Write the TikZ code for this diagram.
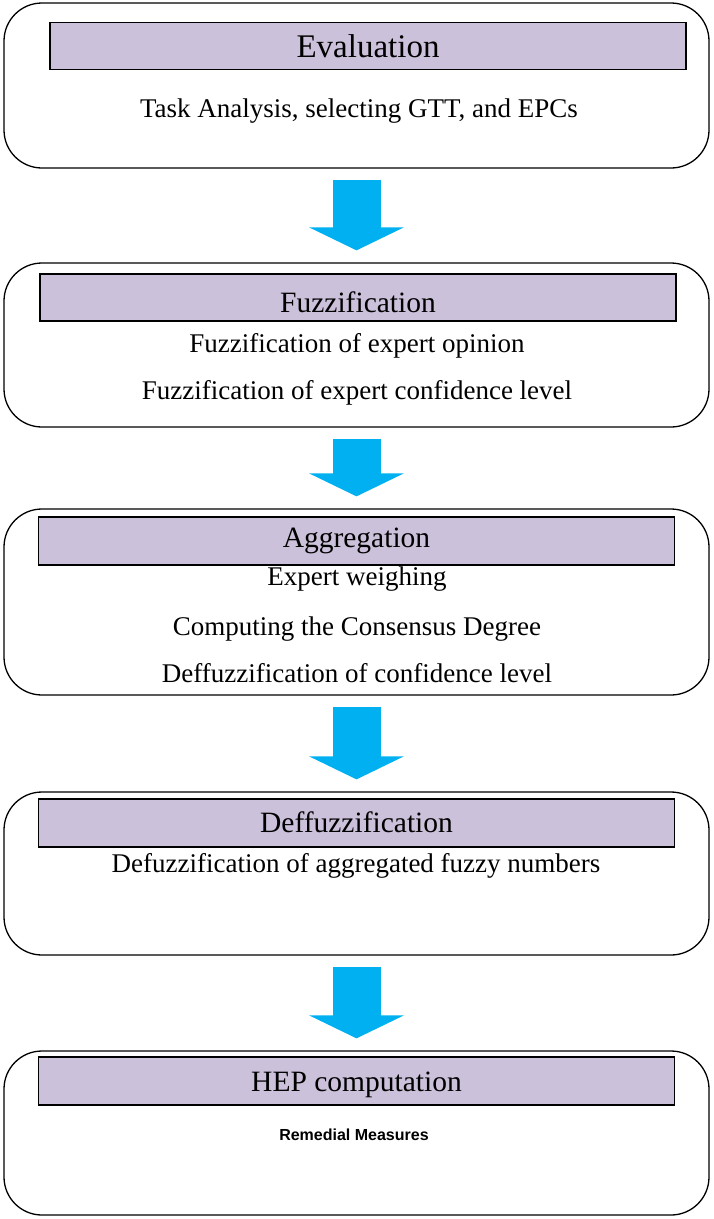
\documentclass[tikz,border=0pt]{standalone}
\usepackage{fontspec}
\setmainfont{Liberation Serif}
\setsansfont{Liberation Sans}
\usetikzlibrary{arrows.meta,positioning}
\definecolor{headfill}{HTML}{CCC1DA}
\definecolor{flowblue}{HTML}{00B0F0}

\begin{document}
\begin{tikzpicture}[x=1pt, y=-1pt,
    stagebox/.style={draw, line width=1.3pt, rounded corners=38pt, minimum width=705pt, inner sep=0pt},
    headbar/.style={draw, line width=1.2pt, fill=headfill, minimum width=636pt, minimum height=47pt, inner sep=0pt},
    headtext/.style={anchor=base, inner sep=0pt, font=\fontsize{29.5}{34}\selectfont},
    bodytext/.style={anchor=base, inner sep=0pt, font=\fontsize{27}{32}\selectfont},
    flowarrow/.style={draw=flowblue, line width=48pt, -{Triangle[length=23pt, width=94pt]}, shorten <=11pt, shorten >=12pt}]
    \useasboundingbox (0,0) rectangle (714,1219);

    % stage frames
    \node[stagebox, minimum height=165pt] (evalbox) at (356.5,85.5) {};
    \node[stagebox, minimum height=164pt] (fuzzbox) at (356.5,345) {};
    \node[stagebox, minimum height=186pt] (aggbox) at (356.5,602) {};
    \node[stagebox, minimum height=163pt] (defuzzbox) at (356.5,873.5) {};
    \node[stagebox, minimum height=164pt] (hepbox) at (356.5,1133) {};

    % title bars
    \node[headbar] (evalhead) at (368,46) {};
    \node[headbar] (fuzzhead) at (358,297.5) {};
    \node[headbar, minimum height=48pt] (agghead) at (356.5,541) {};
    \node[headbar, minimum height=48pt] (defuzzhead) at (356.5,823) {};
    \node[headbar, minimum height=48pt] (hephead) at (356.5,1081) {};

    \node[headtext, font=\fontsize{33}{38}\selectfont] (evaltitle) at (368,57) {Evaluation};
    \node[headtext] (fuzztitle) at (358,312) {Fuzzification};
    \node[headtext] (aggtitle) at (356.5,547) {Aggregation};
    \node[headtext] (defuzztitle) at (356.5,832) {Deffuzzification};
    \node[headtext] (heptitle) at (356.5,1091) {HEP computation};

    % contents
    \node[bodytext] (evaltext) at (359,117) {Task Analysis, selecting GTT, and EPCs};
    \node[bodytext] (fuzzopinion) at (357,352) {Fuzzification of expert opinion};
    \node[bodytext] (fuzzconf) at (357,399) {Fuzzification of expert confidence level};
    \node[bodytext] (aggweigh) at (357,585) {Expert weighing};
    \node[bodytext] (aggconsensus) at (357,635) {Computing the Consensus Degree};
    \node[bodytext] (aggconf) at (357,682) {Deffuzzification of confidence level};
    \node[bodytext] (defuzztext) at (356,872) {Defuzzification of aggregated fuzzy numbers};
    \node[anchor=base, inner sep=0pt, font=\sffamily\bfseries\fontsize{16}{19}\selectfont] (remedial) at (354,1140) {Remedial Measures};

    \draw[flowarrow] (evalbox) -- (fuzzbox);
    \draw[flowarrow] (fuzzbox) -- (aggbox);
    \draw[flowarrow] (aggbox) -- (defuzzbox);
    \draw[flowarrow] (defuzzbox) -- (hepbox);
\end{tikzpicture}
\end{document}
